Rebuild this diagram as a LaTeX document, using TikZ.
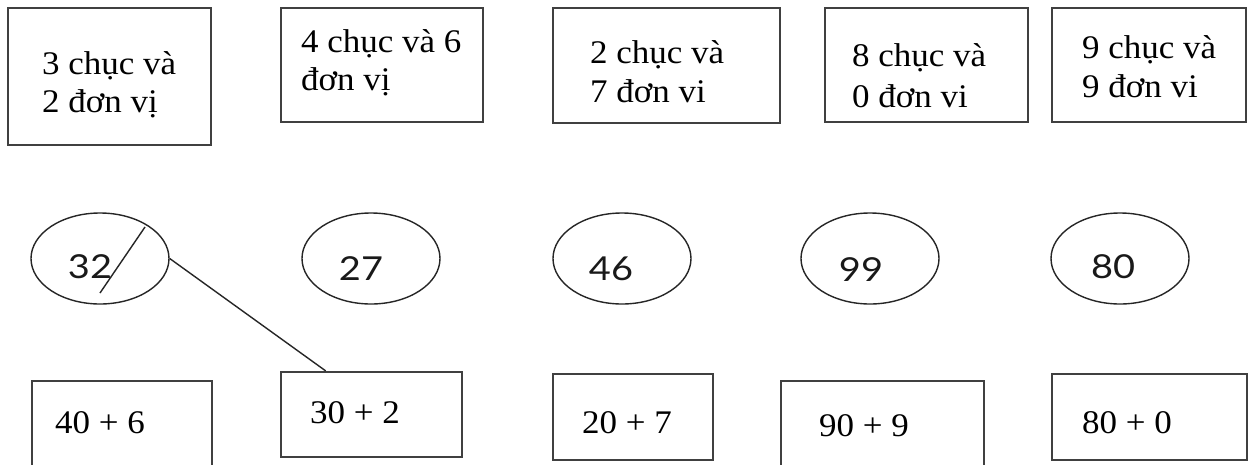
\documentclass[tikz,border=0pt]{standalone}
\usepackage{fontspec}
\usetikzlibrary{calc,shapes.geometric}
\newfontfamily\tnr{Liberation Serif}[FakeStretch=1.06]
\newfontfamily\hand{Lato}[FakeStretch=1.15]
\tikzset{
  box/.style={draw=black!75, line width=2.2pt, rectangle, inner sep=0pt},
  oval/.style={draw=black!85, line width=1.4pt, ellipse, inner sep=0pt, minimum width=138pt, minimum height=91pt},
  txt/.style={inner sep=0pt, anchor=base west, font=\tnr\fontsize{33}{33}\selectfont, text=black},
  num/.style={inner sep=0pt, font=\hand\fontsize{33}{33}\selectfont, text=black!90},
  conn/.style={draw=black!85, line width=1.4pt}
}
\begin{document}
\begin{tikzpicture}[x=1pt,y=-1pt]
\useasboundingbox[fill=white] (0,0) rectangle (1256,464);
% top boxes
\node[box, minimum width=203pt, minimum height=137pt] (t1) at (109.5,76.5) {};
\node[box, minimum width=202pt, minimum height=114pt] (t2) at (382,65) {};
\node[box, minimum width=227pt, minimum height=115pt] (t3) at (666.5,65.5) {};
\node[box, minimum width=203pt, minimum height=114pt] (t4) at (926.5,65) {};
\node[box, minimum width=194pt, minimum height=114pt] (t5) at (1149,65) {};
\node[txt] (t1a) at (42,74) {3 chục và};
\node[txt] (t1b) at (42,112) {2 đơn vị};
\node[txt] (t2a) at (301,52) {4 chục và 6};
\node[txt] (t2b) at (301,90) {đơn vị};
\node[txt] (t3a) at (590,63) {2 chục và};
\node[txt] (t3b) at (590,102) {7 đơn vi};
\node[txt] (t4a) at (852,66) {8 chục và};
\node[txt] (t4b) at (852,107) {0 đơn vi};
\node[txt] (t5a) at (1082,58) {9 chục và};
\node[txt] (t5b) at (1082,97) {9 đơn vi};
% ellipses
\node[oval] (e1) at (100,258.5) {};
\node[oval] (e2) at (371,258.5) {};
\node[oval] (e3) at (622,258.5) {};
\node[oval] (e4) at (870,258.5) {};
\node[oval] (e5) at (1120,258.5) {};
\node[num] (n1) at (90,267) {32};
\node[num] (n2) at (361,269) {27};
\node[num] (n3) at (611,269) {46};
\node[num] (n4) at (861,270) {99};
\node[num] (n5) at (1113,267) {80};
\coordinate (s1) at (145,227);
\coordinate (s2) at (100,293);
\draw[conn] (s1) -- (s2);
% bottom boxes
\node[box, minimum width=180pt, minimum height=90pt] (b1) at (122,426) {};
\node[box, minimum width=181pt, minimum height=85pt] (b2) at (371.5,414.5) {};
\node[box, minimum width=160pt, minimum height=86pt] (b3) at (633,417) {};
\node[box, minimum width=203pt, minimum height=90pt] (b4) at (882.5,426) {};
\node[box, minimum width=195pt, minimum height=86pt] (b5) at (1149.5,417) {};
\node[txt] (b1t) at (55,433) {40 + 6};
\node[txt] (b2t) at (310,423) {30 + 2};
\node[txt] (b3t) at (582,433) {20 + 7};
\node[txt] (b4t) at (819,436) {90 + 9};
\node[txt] (b5t) at (1082,433) {80 + 0};
% connector
\draw[conn] (e1.east) -- ($(b2.north west)!0.25!(b2.north east)$);
\end{tikzpicture}
\end{document}
